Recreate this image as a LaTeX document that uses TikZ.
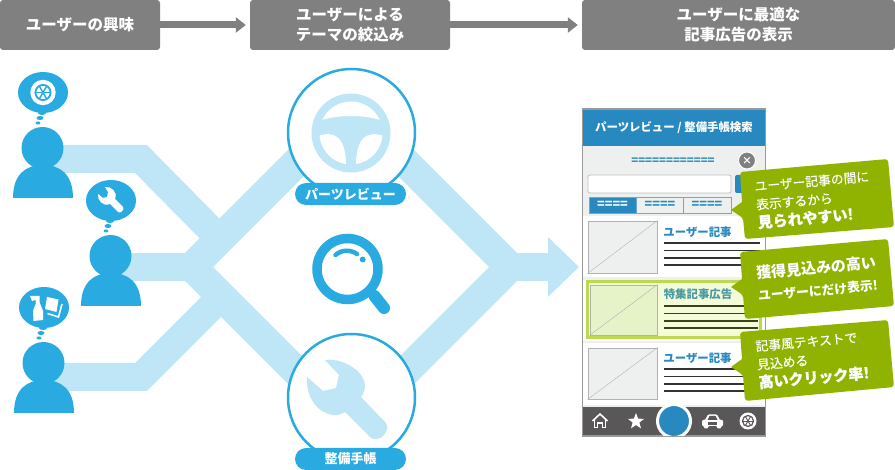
\documentclass[tikz,border=0pt]{standalone}
\usepackage{fontspec}
\setmainfont{Noto Sans CJK JP}
\usetikzlibrary{arrows.meta,shapes.geometric}
\definecolor{peopleblue}{RGB}{41,171,226}
\definecolor{bandblue}{RGB}{191,230,247}
\definecolor{headgray}{RGB}{128,128,128}
\definecolor{panelblue}{RGB}{40,137,192}
\definecolor{panelgray}{RGB}{238,240,240}
\definecolor{bargray}{RGB}{89,87,87}
\definecolor{callgreen}{RGB}{143,179,0}
\definecolor{adframe}{RGB}{188,217,79}
\definecolor{adfill}{RGB}{244,251,217}
\definecolor{adthumb}{RGB}{230,242,200}
\definecolor{adtitle}{RGB}{74,154,160}
\tikzset{
  headbox/.style={fill=headgray, text=white, rounded corners=3pt, align=center, inner sep=0pt, minimum height=50pt, font=\fontsize{15.5}{20}\selectfont\bfseries},
  headarrow/.style={draw=headgray, line width=7pt, shorten >=4pt, -{Triangle[length=10pt,width=15pt]}},
  band/.style={draw=bandblue, line width=28pt, line join=miter},
  bandwide/.style={draw=bandblue, line width=29.7pt, line join=miter},
  personhead/.style={circle, fill=peopleblue, inner sep=0pt, minimum size=42pt},
  talk/.style={ellipse, fill=peopleblue, inner sep=0pt, minimum width=50pt, minimum height=41pt},
  talkbig/.style={ellipse, fill=peopleblue, inner sep=0pt, minimum width=8pt, minimum height=4pt},
  talksmall/.style={ellipse, fill=peopleblue, inner sep=0pt, minimum width=5pt, minimum height=3pt},
  theme/.style={circle, draw=peopleblue, fill=white, line width=2.5pt, inner sep=0pt, minimum size=127pt},
  pill/.style={fill=peopleblue, text=white, rounded corners=11pt, inner sep=0pt, minimum width=111pt, minimum height=22pt, font=\fontsize{13}{13}\selectfont\bfseries},
  thumb/.style={rectangle, fill=panelgray, draw=black!30, line width=0.8pt, inner sep=0pt},
  tabbox/.style={rectangle, fill=panelgray, draw=panelblue!70, line width=0.8pt, text=panelblue, inner sep=0pt, minimum width=47pt, minimum height=16pt, font=\fontsize{12.6}{12}\selectfont\bfseries},
  rowtitle/.style={text=panelblue, inner sep=0pt, font=\fontsize{11.4}{12}\selectfont\bfseries},
  rowline/.style={draw=black!80, line width=1.2pt},
  calltext/.style={text=white, anchor=west, align=left, rotate=5, inner sep=0pt, font=\fontsize{12.8}{18.5}\selectfont\addfontfeature{FakeBold=0.4}},
}
\begin{document}
\begin{tikzpicture}[x=1pt,y=-1pt]
\useasboundingbox (0,0) rectangle (895,470);
% headers
\node [headbox, minimum width=160pt] (hdr1) at (80,25) {ユーザーの興味};
\node [headbox, minimum width=200pt] (hdr2) at (350,25) {ユーザーによる\\テーマの絞込み};
\node [headbox, minimum width=313pt] (hdr3) at (738.5,25) {ユーザーに最適な\\記事広告の表示};
\draw [headarrow] (hdr1) -- (hdr2);
\draw [headarrow] (hdr2) -- (hdr3);
% bands
\coordinate (start1) at (43,159);
\coordinate (kink1) at (141,159);
\coordinate (meet1) at (220,239);
\coordinate (start2) at (110,267);
\coordinate (split) at (192,267);
\coordinate (start3) at (43,377);
\coordinate (kink3) at (141,377);
\coordinate (meet3) at (220,298);
\coordinate (wheeltop) at (351,108);
\coordinate (wrenchlow) at (351,426);
\coordinate (merge) at (510,267);
\coordinate (tip) at (579,267);
\draw [band] (start1) -- (kink1) -- (meet1);
\draw [band] (start3) -- (kink3) -- (meet3);
\draw [band] (start2) -- (split);
\draw [bandwide] (split) -- (wheeltop) -- (merge) -- (wrenchlow) -- cycle;
\draw [band, -{Triangle[length=31pt,width=58pt]}] (merge) -- (tip);
% people
\node [personhead] (head1) at (42.5,148) {};
\fill [peopleblue] (13,198) .. controls (13,174) and (26,165) .. (43,165) .. controls (60,165) and (73,174) .. (73,198) -- cycle;
\node [personhead] (head2) at (110.5,256) {};
\fill [peopleblue] (81,306) .. controls (81,282) and (94,273) .. (111,273) .. controls (128,273) and (141,282) .. (141,306) -- cycle;
\node [personhead] (head3) at (43.5,363) {};
\fill [peopleblue] (14,413) .. controls (14,389) and (27,380) .. (44,380) .. controls (61,380) and (74,389) .. (74,413) -- cycle;
% thoughts
\node [talk] (talk1) at (43,92.5) {};
\node [talkbig] (dot1a) at (42,113) {};
\node [talkbig, minimum width=7pt] (dot1b) at (40,118) {};
\node [talksmall] (dot1c) at (38,123) {};
\node [talk] (talk2) at (111,200.5) {};
\node [talkbig] (dot2a) at (110,221) {};
\node [talkbig, minimum width=7pt] (dot2b) at (108,226) {};
\node [talksmall] (dot2c) at (106,231) {};
\node [talk] (talk3) at (44,307.5) {};
\node [talkbig] (dot3a) at (43,328) {};
\node [talkbig, minimum width=7pt] (dot3b) at (41,333) {};
\node [talksmall] (dot3c) at (39,338) {};
% tire in first thought
\fill [white] (talk1.center) circle (12.7);
\draw [peopleblue, line width=1.8pt] (talk1.center) circle (7.6);
\draw [peopleblue, line width=1.4pt] (35.4,92.5) -- (50.6,92.5);
\draw [peopleblue, line width=1.4pt] (39.2,85.9) -- (46.8,99.1);
\draw [peopleblue, line width=1.4pt] (46.8,85.9) -- (39.2,99.1);
% wrench in second thought
\fill [white] (105,187) .. controls (111,186) and (118,192) .. (115,199) -- (123,207) .. controls (125,210) and (120,214) .. (118,212) -- (110,204) .. controls (103,207) and (97,200) .. (98,194) -- (103,198) -- (107,197) -- (108,192) -- cycle;
% bottle and books in third thought
\fill [white] (30,296) -- (39.5,296) -- (39.5,302) -- (43,311) -- (43,320) -- (33.5,321) -- (33,311) -- (36,303) -- (35.5,300) -- (32,301) -- cycle;
\fill [white] (47,297) -- (58.5,299.5) -- (56.5,312) -- (45,309) -- cycle;
\draw [white, line width=1.6pt] (47.5,313.5) -- (58.5,317) -- (62,304);
% themes
\node [theme] (wheel) at (351.5,132.5) {};
\node [theme] (wrench) at (351.5,397.5) {};
\fill [bandblue] (351,133) circle (39.5);
\begin{scope}
\clip (351,133) circle (31.5);
\fill [white] (310,125) .. controls (330,113) and (372,113) .. (392,125) -- (392,90) -- (310,90) -- cycle;
\fill [white] (318,136) .. controls (335,130) and (346,138) .. (346,165) -- (300,175) -- cycle;
\fill [white] (384,136) .. controls (367,130) and (356,138) .. (356,165) -- (400,175) -- cycle;
\end{scope}
\fill [bandblue] (325,360) .. controls (345,357) and (376,377) .. (361,397) -- (385,422) .. controls (393,430) and (378,445) .. (370,437) -- (345,412) .. controls (331,422) and (305,407) .. (307,377) -- (323,391) -- (336,388) -- (339,375) -- cycle;
\node [pill] (partslabel) at (350.5,194) {パーツレビュー};
\node [pill] (wrenchlabel) at (350.5,459) {整備手帳};
% magnifier
\node [circle, draw=peopleblue, line width=9.5pt, inner sep=0pt, minimum size=61pt] (lens) at (347.5,269) {};
\draw [peopleblue, line width=12pt, line cap=round] (lens.south east) ++(2,2) -- (384,308);
\draw [peopleblue, line width=4.5pt, line cap=round] (335.5,255) .. controls (341,250) and (350,249) .. (357,254);
\fill [peopleblue] (362.7,259.5) circle (3);
% panel
\node [rectangle, fill=panelgray, draw=black!40, line width=1.2pt, inner sep=0pt, minimum width=183pt, minimum height=327pt] (panel) at (674,272.5) {};
\node [rectangle, fill=panelblue, text=white, inner sep=0pt, minimum width=182pt, minimum height=36pt, font=\fontsize{11.4}{12}\selectfont\bfseries] (paneltitle) at (674,128) {パーツレビュー / 整備手帳検索};
\node [rowtitle] (dummytitle) at (673,161) {============};
\node [circle, fill=headgray, draw=white, line width=1pt, text=white, inner sep=0pt, minimum size=17pt, font=\fontsize{10}{10}\selectfont\bfseries] (closebtn) at (747,160.5) {×};
\node [rectangle, fill=white, draw=black!25, line width=0.8pt, rounded corners=2pt, inner sep=0pt, minimum width=143pt, minimum height=18pt] (inputbox) at (659.5,184) {};
\node [rectangle, fill=panelblue, rounded corners=2pt, inner sep=0pt, minimum width=20pt, minimum height=18pt] (searchbtn) at (745,184) {};
\node [tabbox, fill=panelblue, text=white] (tab1) at (612.5,205) {====};
\node [tabbox, minimum width=47pt] (tab2) at (660,205) {====};
\node [tabbox, minimum width=48pt] (tab3) at (707,205) {====};
\fill [white] (583,216.5) rectangle (765,277);
\fill [white] (583,280) rectangle (765,341);
\fill [white] (583,343) rectangle (765,405);
% first row
\node [thumb, minimum width=69pt, minimum height=52pt] (thumb1) at (622.5,247) {};
\draw [black!30] (thumb1.south west) -- (thumb1.north east);
\node [rowtitle] (title1) at (697.5,232) {ユーザー記事};
\draw [rowline] (664,243) -- (760,243);
\draw [rowline] (664,250.5) -- (760,250.5);
\draw [rowline] (664,258) -- (760,258);
\draw [rowline] (664,265) -- (760,265);
% second row
\node [rectangle, fill=adfill, draw=adframe, line width=3pt, inner sep=0pt, minimum width=173pt, minimum height=56pt] (adrow) at (673.5,310) {};
\node [thumb, fill=adthumb, minimum width=67pt, minimum height=50pt] (thumb2) at (623.5,310) {};
\draw [black!30] (thumb2.south west) -- (thumb2.north east);
\node [rowtitle, text=adtitle] (title2) at (698,294) {特集記事広告};
\draw [rowline, draw=black!70!adframe] (664,306) -- (758,306);
\draw [rowline, draw=black!70!adframe] (664,313.5) -- (758,313.5);
\draw [rowline, draw=black!70!adframe] (664,321) -- (758,321);
\draw [rowline, draw=black!70!adframe] (664,328) -- (758,328);
% third row
\node [thumb, minimum width=69pt, minimum height=51pt] (thumb3) at (622.5,373.5) {};
\draw [black!30] (thumb3.south west) -- (thumb3.north east);
\node [rowtitle] (title3) at (697.5,358) {ユーザー記事};
\draw [rowline] (664,369) -- (760,369);
\draw [rowline] (664,376.5) -- (760,376.5);
\draw [rowline] (664,384) -- (760,384);
\draw [rowline] (664,391) -- (760,391);
% toolbar
\fill [bargray] (583,407) rectangle (765,435.5);
\begin{scope}
\clip (583,405) rectangle (765,436);
\fill [panelblue, draw=white, line width=3pt] (674,421) circle (16.5);
\end{scope}
\draw [white, line width=1.6pt] (592.5,421) -- (600,414) -- (607.5,421);
\draw [white, line width=1.6pt] (594.5,420) -- (594.5,427.5) -- (597.5,427.5) -- (597.5,423) -- (602.5,423) -- (602.5,427.5) -- (605.5,427.5) -- (605.5,420);
\node [star, star points=5, star point ratio=2.4, fill=white, inner sep=0pt, minimum size=17pt] (staricon) at (636,421.5) {};
\fill [white, rounded corners=1pt] (705,420) -- (708,414.5) -- (717,414.5) -- (720,420) -- (723,420) -- (723,426) -- (721,426) -- (721,428.5) -- (717,428.5) -- (717,426) -- (708,426) -- (708,428.5) -- (704,428.5) -- (704,426) -- (702,426) -- (702,420) -- cycle;
\fill [bargray] (707.5,420) -- (709.5,416) -- (715.5,416) -- (717.5,420) -- cycle;
\fill [bargray] (708,422.5) rectangle (717,425);
\fill [white] (748,421) circle (8.5);
\draw [bargray, line width=1.2pt] (748,421) circle (5.5);
\draw [bargray, line width=0.9pt] (742.5,421) -- (753.5,421);
\draw [bargray, line width=0.9pt] (745.2,416.2) -- (750.8,425.8);
\draw [bargray, line width=0.9pt] (750.8,416.2) -- (745.2,425.8);
% callouts
\fill [callgreen, rounded corners=3pt] (740,172) -- (888,159) -- (894,227) -- (745,239) -- (743,218) [sharp corners] -- (731,210) -- (742,202) [rounded corners=3pt] -- cycle;
\node [calltext] (call1) at (756,205) {ユーザー記事の間に\\表示するから\\{\fontsize{15}{18.5}\selectfont\bfseries 見られやすい!}};
\fill [callgreen, rounded corners=3pt] (740,252) -- (888,239) -- (894,306) -- (745,319) -- (743,295) [sharp corners] -- (731,287) -- (742,279) [rounded corners=3pt] -- cycle;
\node [calltext, font=\fontsize{12.8}{22}\selectfont\bfseries] (call2) at (757,284) {{\fontsize{15}{22}\selectfont 獲得見込みの高い}\\ユーザーにだけ表示!};
\fill [callgreen, rounded corners=3pt] (740,332) -- (888,320) -- (894,387) -- (745,401) -- (743,375) [sharp corners] -- (731,367) -- (742,359) [rounded corners=3pt] -- cycle;
\node [calltext] (call3) at (757,365) {記事風テキストで\\見込める\\{\fontsize{15}{18.5}\selectfont\bfseries 高いクリック率!}};
\end{tikzpicture}
\end{document}
